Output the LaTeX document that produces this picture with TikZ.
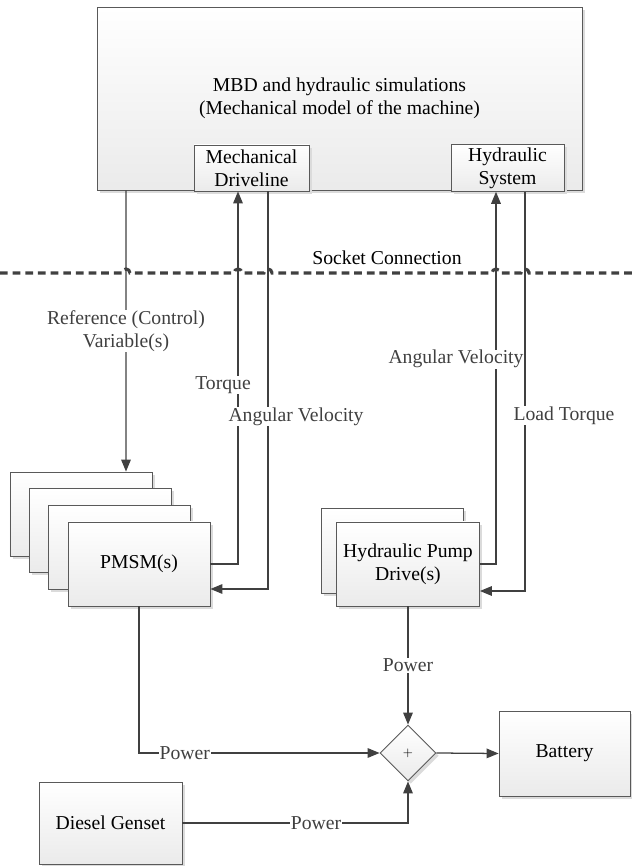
\documentclass[tikz,border=0pt]{standalone}
\usepackage{fontspec}
\setmainfont{Liberation Serif}
\usepackage{tikz}
\usetikzlibrary{arrows.meta,positioning,shapes.geometric,shadows}
\colorlet{dsline}{black!75}
\colorlet{dsedge}{black!65}
\colorlet{dsshade}{black!14}
\newcommand{\dsfont}{\fontsize{14}{16.5}\selectfont}
\tikzset{
  dsblock/.style={
    draw=dsedge,
    line width=0.6pt,
    top color=white,
    bottom color=black!8,
    align=center,
    inner sep=2pt,
    font=\dsfont,
    drop shadow={shadow xshift=0.07cm,shadow yshift=-0.07cm,fill=dsshade,opacity=1}
  },
  dssum/.style={dsblock,diamond,aspect=1,minimum width=1.4cm,minimum height=1.4cm,
                inner sep=0pt,font=\small},
  dsflow/.style={-{Triangle[length=0.3cm,width=0.24cm]},line width=0.9pt,dsline},
  dssocket/.style={line width=2.2pt,dsline,dash pattern=on 5.5pt off 3.5pt},
  dslabel/.style={font=\dsfont,align=center,fill=white,inner sep=0.5pt}
}
\begin{document}
\begin{tikzpicture}[x=1cm,y=1cm]
  \useasboundingbox (0,0) rectangle (15.8,21.65);

  % simulation side
  \node[dsblock,minimum width=12.125cm,minimum height=4.575cm] (sim) at (8.4875,19.1875)
    {MBD and hydraulic simulations\\(Mechanical model of the machine)};
  \node[dsblock,minimum width=2.875cm,minimum height=1.15cm] (mech) at (6.2875,17.45)
    {Mechanical\\Driveline};
  \node[dsblock,minimum width=2.825cm,minimum height=1.15cm] (hyd) at (12.6875,17.45)
    {Hydraulic\\System};

  % socket line, hopping over the signals
  \coordinate (sockL) at (0,14.825);
  \coordinate (sockR) at (15.8,14.825);
  \draw[dssocket] (sockL)
    \foreach \hx in {3.15,5.95,6.7,12.4,13.125}{
      -- (\hx-0.1,14.825) arc[start angle=180,end angle=0,radius=0.1]
    } -- (sockR);
  \node[font=\dsfont] (socktxt) at (9.675,15.2) {Socket Connection};

  % drives
  \foreach \k in {0,1,2}{
    \node[dsblock,minimum width=3.55cm,minimum height=2.1cm] (pmsm\k)
      at (2.025+0.4833*\k,8.8-0.4167*\k) {};
  }
  \node[dsblock,minimum width=3.55cm,minimum height=2.1cm] (pmsm) at (3.475,7.55) {PMSM(s)};
  \node[dsblock,minimum width=3.55cm,minimum height=2.125cm] (pump0) at (9.8,7.8875) {};
  \node[dsblock,minimum width=3.575cm,minimum height=2.1cm] (pump) at (10.2,7.55)
    {Hydraulic Pump\\Drive(s)};

  % power side
  \node[dssum] (sum) at (10.2,2.825) {$+$};
  \node[dsblock,minimum width=3.275cm,minimum height=2.125cm] (battery) at (14.1125,2.8125) {Battery};
  \node[dsblock,minimum width=3.575cm,minimum height=2.05cm] (genset) at (2.7625,1.075) {Diesel Genset};

  % signals
  \draw[dsflow] ([xshift=-5.3375cm]sim.south) -- ([xshift=1.125cm]pmsm0.north)
    node[midway,dslabel] {Reference (Control)\\Variable(s)};
  \draw[dsflow] (pmsm.east) -| ([xshift=-0.3375cm]mech.south)
    node[pos=0.74,xshift=-0.375cm,dslabel] {Torque};
  \draw[dsflow] ([xshift=0.4125cm]mech.south) |- ([yshift=-0.625cm]pmsm.east)
    node[pos=0.283,xshift=0.7cm,dslabel] {Angular Velocity};
  \draw[dsflow] (pump.east) -| ([xshift=-0.2875cm]hyd.south)
    node[pos=0.775,xshift=-1cm,dslabel] {Angular Velocity};
  \draw[dsflow] ([xshift=0.4375cm]hyd.south) |- ([yshift=-0.675cm]pump.east)
    node[pos=0.28,xshift=0.975cm,dslabel] {Load Torque};

  % power flows
  \draw[dsflow] (pmsm.south) |- (sum.west) node[pos=0.595,dslabel] {Power};
  \draw[dsflow] (pump.south) -- (sum.north) node[midway,dslabel] {Power};
  \draw[dsflow] (genset.east) -| (sum.south) node[pos=0.296,dslabel] {Power};
  \draw[dsflow] (sum.east) -- (battery.west);
\end{tikzpicture}
\end{document}
